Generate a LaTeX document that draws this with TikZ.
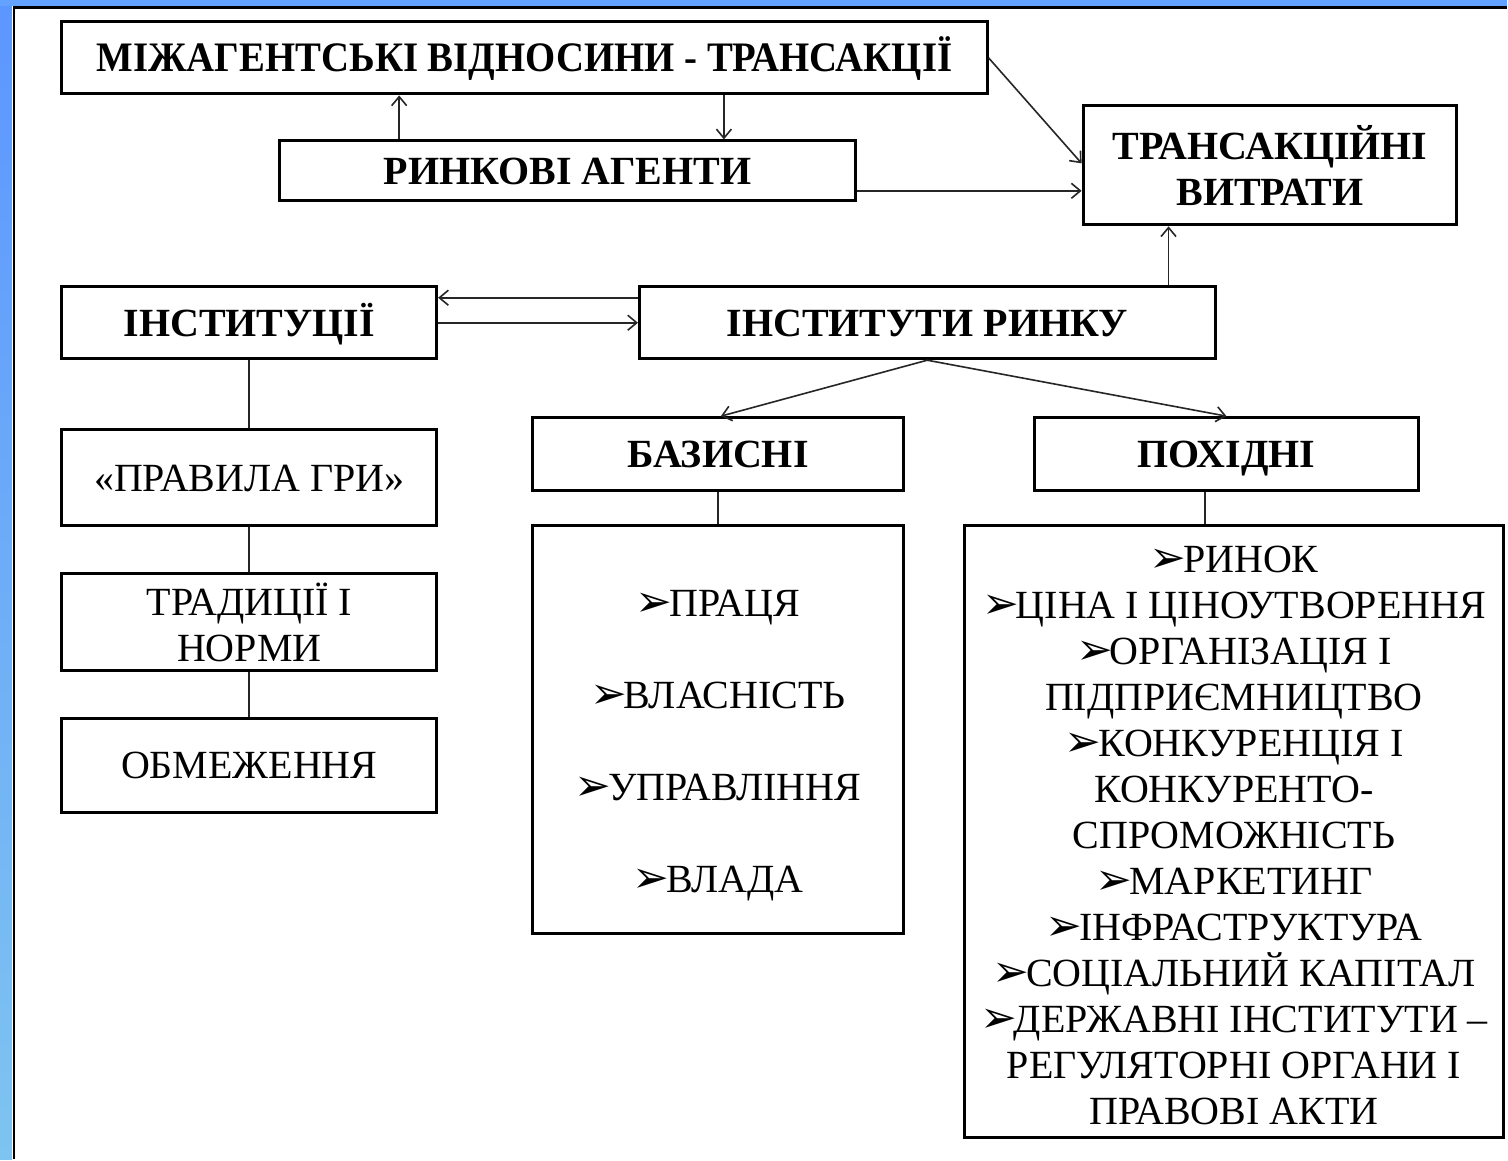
\documentclass[tikz,border=0pt]{standalone}
\usepackage{fontspec}
\setmainfont{Liberation Serif}
\newfontfamily\symfont{DejaVu Sans}
\usetikzlibrary{arrows.meta}
\definecolor{lefttop}{RGB}{92,150,255}
\definecolor{leftmid}{RGB}{170,214,248}
\definecolor{leftbot}{RGB}{126,196,240}
\definecolor{topstrip}{RGB}{100,162,255}
\newcommand\mybul{{\symfont\bfseries\scalebox{1.1}{➢}}\kern-3pt}
\begin{document}
\begin{tikzpicture}[x=1pt,y=-1pt,
  box/.style={draw=black, line width=3pt, fill=white, inner sep=0pt, align=center,
    font=\fontsize{40}{46}\selectfont},
  hbox/.style={box, font=\fontsize{40}{46}\selectfont\bfseries},
  one/.style={text height=27pt, text depth=0pt},
  txt/.style={inner sep=0pt, align=center, font=\fontsize{40}{46}\selectfont},
  conn/.style={draw=black!85, line width=1.6pt},
  arr/.style={conn, -{Straight Barb[length=9pt,width=15pt]}}]
% background and frame
\fill[white] (0,0) rectangle (1508,1160);
\shade[top color=lefttop, middle color=leftmid, bottom color=leftbot] (0,0) rectangle (12,1160);
\fill[topstrip] (0,0) rectangle (1508,6);
\draw[black, line width=2.5pt] (14,1160) -- (14,7.5) -- (1508,7.5);
% boxes
\node[hbox, one, minimum width=926pt, minimum height=72pt] (b1) at (525,58) {\scalebox{0.97}[1.05]{МІЖАГЕНТСЬКІ ВІДНОСИНИ - ТРАНСАКЦІЇ}};
\node[hbox, one, minimum width=576pt, minimum height=60pt] (b2) at (568,171) {РИНКОВІ АГЕНТИ};
\node[hbox, minimum width=374pt, minimum height=119pt] (b3) at (1271,165.5) {ТРАНСАКЦІЙНІ\\ВИТРАТИ};
\node[hbox, one, minimum width=375pt, minimum height=72pt] (b4) at (249.5,323) {ІНСТИТУЦІЇ};
\node[hbox, one, minimum width=576pt, minimum height=72pt] (b5) at (928,323) {ІНСТИТУТИ РИНКУ};
\node[box, one, minimum width=375pt, minimum height=96pt] (b6) at (249.5,478) {«ПРАВИЛА ГРИ»};
\node[box, minimum width=375pt, minimum height=97pt] (b7) at (249.5,622.5) {ТРАДИЦІЇ І\\НОРМИ};
\node[box, one, minimum width=375pt, minimum height=94pt] (b8) at (249.5,766) {ОБМЕЖЕННЯ};
\node[hbox, one, minimum width=371pt, minimum height=73pt] (b9) at (718.5,454.5) {БАЗИСНІ};
\node[hbox, one, minimum width=385pt, minimum height=73pt] (b10) at (1227.5,454.5) {ПОХІДНІ};
\node[box, minimum width=371pt, minimum height=408pt] (b11) at (718.5,730) {};
\node[txt, font=\fontsize{40}{92}\selectfont] (b11t) at (718.5,746) {\mybul ПРАЦЯ\\\mybul ВЛАСНІСТЬ\\\mybul УПРАВЛІННЯ\\\mybul ВЛАДА};
\node[box, minimum width=540pt, minimum height=612pt] (b12) at (1235,832) {};
\node[txt] (b12t) at (1235,836) {\mybul РИНОК\\\mybul ЦІНА І ЦІНОУТВОРЕННЯ\\\mybul ОРГАНІЗАЦІЯ І\\ПІДПРИЄМНИЦТВО\\\mybul КОНКУРЕНЦІЯ І\\КОНКУРЕНТО-\\СПРОМОЖНІСТЬ\\\mybul МАРКЕТИНГ\\\mybul ІНФРАСТРУКТУРА\\\mybul СОЦІАЛЬНИЙ КАПІТАЛ\\\mybul ДЕРЖАВНІ ІНСТИТУТИ –\\РЕГУЛЯТОРНІ ОРГАНИ І\\ПРАВОВІ АКТИ};
% connectors
\draw[arr] ([xshift=121pt]b2.north west) -- ([xshift=121pt]b2.north west |- b1.south);
\draw[arr] ([xshift=664pt]b1.south west) -- ([xshift=664pt]b1.south west |- b2.north);
\draw[arr] (b1.east) -- ([yshift=2pt]b3.west);
\draw[arr] ([yshift=-20pt]b2.east) -- ([yshift=-20pt]b2.east -| b3.west);
\draw[arr] ([xshift=-48pt]b5.north east) -- ([xshift=-48pt]b5.north east |- b3.south);
\draw[arr] ([yshift=25pt]b5.west) -- ([yshift=25pt]b5.west -| b4.east);
\draw[arr] (b4.east) -- (b5.west);
\draw[arr] (b5.south) -- ([xshift=3pt]b9.north);
\draw[arr] (b5.south) -- (b10.north);
\draw[conn] (b4.south) -- (b6.north);
\draw[conn] (b6.south) -- (b7.north);
\draw[conn] (b7.south) -- (b8.north);
\draw[conn] (b9.south) -- (b11.north);
\draw[conn] ([xshift=-21.5pt]b10.south) -- ([xshift=-21.5pt]b10.south |- b12.north);
\end{tikzpicture}
\end{document}
